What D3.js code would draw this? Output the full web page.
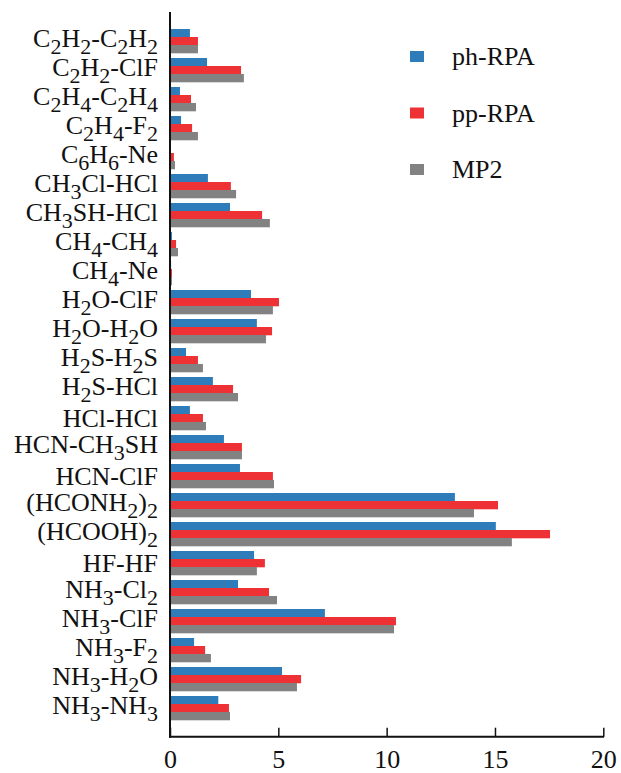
<!DOCTYPE html>
<html>
<head>
<meta charset="utf-8">
<script src="https://cdn.jsdelivr.net/npm/d3@7"></script>
<style>
  html, body { margin: 0; padding: 0; background: #fff; }
  svg { display: block; }
  svg text { font-family: "Liberation Serif", "Times New Roman", Times, serif; }
</style>
</head>
<body>
<svg id="chart" width="621" height="773"></svg>
<script>
// Category labels; "_x" marks subscript x
const categories = [
  "C_2H_2-C_2H_2", "C_2H_2-ClF", "C_2H_4-C_2H_4", "C_2H_4-F_2", "C_6H_6-Ne",
  "CH_3Cl-HCl", "CH_3SH-HCl", "CH_4-CH_4", "CH_4-Ne", "H_2O-ClF",
  "H_2O-H_2O", "H_2S-H_2S", "H_2S-HCl", "HCl-HCl", "HCN-CH_3SH",
  "HCN-ClF", "(HCONH_2)_2", "(HCOOH)_2", "HF-HF", "NH_3-Cl_2",
  "NH_3-ClF", "NH_3-F_2", "NH_3-H_2O", "NH_3-NH_3"
];
const seriesNames = ["ph-RPA", "pp-RPA", "MP2"];
const phRPA = [0.92, 1.71, 0.46, 0.51, 0.03, 1.75, 2.77, 0.09, 0.05, 3.74,
               4.01, 0.74, 1.98, 0.92, 2.49, 3.23, 13.15, 15.04, 3.88, 3.14,
               7.15, 1.11, 5.17, 2.23];
const ppRPA = [1.29, 3.28, 0.97, 1.02, 0.18, 2.81, 4.25, 0.28, 0.09, 5.03,
               4.71, 1.29, 2.91, 1.52, 3.32, 4.75, 15.14, 17.54, 4.38, 4.57,
               10.43, 1.62, 6.05, 2.72];
const mp2   = [1.29, 3.41, 1.20, 1.29, 0.23, 3.05, 4.61, 0.37, 0.09, 4.75,
               4.43, 1.52, 3.14, 1.66, 3.32, 4.80, 14.03, 15.78, 4.01, 4.94,
               10.34, 1.89, 5.86, 2.77];
const xTicks = [0, 5, 10, 15, 20];
const colors = ["#2e7dba", "#ee3134", "#828282"];

const seriesValues = [phRPA, ppRPA, mp2];

const svg = d3.select("#chart");
const x0 = 170, x1 = 603.3, axisY = 736.7, axisTop = 12;

const x = d3.scaleLinear().domain([0, 20]).range([x0, x1]);
const y = d3.scaleBand().domain(categories).range([26.5, 722.5])
  .paddingInner(5 / 29).paddingOuter(2.5 / 29);
const ySub = d3.scaleBand().domain(seriesNames).range([0, y.bandwidth()]);

// Bars
const groups = svg.append("g").selectAll("g")
  .data(categories)
  .join("g")
  .attr("transform", d => `translate(0,${y(d)})`);

groups.selectAll("rect")
  .data((d, i) => seriesNames.map((s, j) => ({ s, j, v: seriesValues[j][i] })))
  .join("rect")
  .attr("x", x(0))
  .attr("y", d => ySub(d.s))
  .attr("width", d => x(d.v) - x(0))
  .attr("height", ySub.bandwidth() + 0.3)
  .attr("fill", d => colors[d.j]);

// Category labels with subscripts
const labelG = svg.append("g");
categories.forEach(c => {
  const hasSub = c.includes("_");
  const cy = y(c) + y.bandwidth() / 2;
  const t = labelG.append("text")
    .attr("x", 158)
    .attr("y", cy + (hasSub ? 6 : 8.7))
    .attr("text-anchor", "end")
    .style("font-size", "26px")
    .attr("fill", "#111");
  const parts = [];
  let i = 0;
  let buf = "";
  while (i < c.length) {
    if (c[i] === "_") {
      if (buf) { parts.push({ t: buf, sub: false }); buf = ""; }
      parts.push({ t: c[i + 1], sub: true });
      i += 2;
    } else { buf += c[i]; i++; }
  }
  if (buf) parts.push({ t: buf, sub: false });
  let prevSub = false;
  parts.forEach(p => {
    const ts = t.append("tspan").text(p.t);
    if (p.sub) {
      ts.style("font-size", "22px").attr("dy", prevSub ? 0 : 7);
    } else if (prevSub) {
      ts.attr("dy", -7);
    }
    prevSub = p.sub;
  });
});

// X axis
const xAxis = d3.axisBottom(x).tickValues(xTicks).tickSize(0).tickPadding(0).tickFormat(d3.format("d"));
const gx = svg.append("g").attr("transform", `translate(0,${axisY})`).call(xAxis);
gx.attr("font-family", null).attr("font-size", null);
gx.select(".domain").remove();
gx.selectAll(".tick text")
  .style("font-family", "'Liberation Serif', 'Times New Roman', serif")
  .style("font-size", "26px")
  .attr("fill", "#111")
  .attr("dy", null)
  .attr("y", 31);
gx.selectAll(".tick").append("line")
  .attr("y1", 0).attr("y2", -9)
  .attr("stroke", "#111").attr("stroke-width", 1.5);
gx.append("line")
  .attr("x1", x0 - 1).attr("x2", x1 + 0.75)
  .attr("y1", 0).attr("y2", 0)
  .attr("stroke", "#111").attr("stroke-width", 2);

// Y axis line
svg.append("line")
  .attr("x1", x0).attr("x2", x0)
  .attr("y1", axisTop).attr("y2", axisY + 1)
  .attr("stroke", "#111").attr("stroke-width", 2);

// Legend
const legend = svg.append("g");
const legendY = d3.scalePoint().domain(seriesNames).range([65, 178]);
seriesNames.forEach((s, j) => {
  const by = legendY(s);
  legend.append("rect")
    .attr("x", 410).attr("y", by - 14)
    .attr("width", 14).attr("height", 11)
    .attr("fill", colors[j]);
  legend.append("text")
    .attr("x", 452).attr("y", by)
    .style("font-size", "26px")
    .attr("fill", "#111")
    .text(s);
});
</script>
</body>
</html>
